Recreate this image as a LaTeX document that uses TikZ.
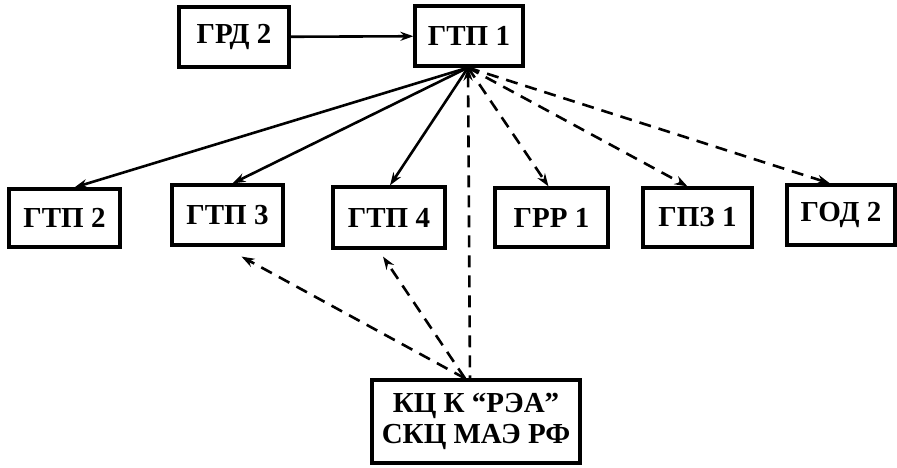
\documentclass[tikz,border=0pt]{standalone}
\usepackage{fontspec}
\setmainfont{Liberation Serif}
\usetikzlibrary{arrows.meta}

\tikzset{
	unit/.style={draw, line width=3.2pt, fill=white, font=\fontsize{29}{31}\selectfont\bfseries, inner sep=0pt, align=center},
	link/.style={line width=2.6pt, -{Stealth[length=13pt, width=9pt]}},
	dlink/.style={link, dash pattern=on 12pt off 8pt}
}

\begin{document}
\begin{tikzpicture}[x=1pt, y=-1pt]
		\useasboundingbox (0, 0) rectangle (897, 468);
		
		% top row
		\node[unit, minimum width=110pt, minimum height=60pt] (grd2) at (234, 37) {ГРД 2};
		\node[unit, minimum width=108pt, minimum height=60pt] (gtp1) at (469, 36) {ГТП 1};
		
		% second row
		\node[unit, minimum width=111pt, minimum height=58pt] (gtp2) at (64.5, 218) {ГТП 2};
		\node[unit, minimum width=111pt, minimum height=60pt] (gtp3) at (227.5, 215) {ГТП 3};
		\node[unit, minimum width=112pt, minimum height=61pt] (gtp4) at (389, 217.5) {ГТП 4};
		\node[unit, minimum width=113pt, minimum height=59pt] (grr1) at (551.5, 217.5) {ГРР 1};
		\node[unit, minimum width=109pt, minimum height=59pt] (gpz1) at (697.5, 217.5) {ГПЗ 1};
		\node[unit, minimum width=108pt, minimum height=60pt] (god2) at (841, 215) {ГОД 2};
		
		% centre
		\node[unit, minimum width=208pt, minimum height=83pt] (kc) at (476, 421.5) {КЦ К “РЭА”\\СКЦ МАЭ РФ};
		
		\coordinate (hub) at ([xshift=-1pt]gtp1.south);
		\coordinate (foot) at ([xshift=-11pt]kc.north);
		
		\draw[link] (grd2) -- (gtp1);
		
		% solid links
		\foreach \to/\dx in {gtp2/10, gtp3/5, gtp4/1}
			\draw[link] (hub) -- ([xshift=\dx pt]\to.north);
		
		% dashed links
		\foreach \to/\dx in {grr1/-3, gpz1/-10, god2/-11}
			\draw[dlink] (hub) -- ([xshift=\dx pt]\to.north);
		
		\draw[dlink, {Stealth[length=13pt, width=9pt]}-] (hub) -- ([xshift=-6pt]kc.north);
		\draw[dlink] (foot) -- ([xshift=14pt, yshift=-10pt]gtp3.south);
		\draw[dlink] (foot) -- ([xshift=-6pt, yshift=-7pt]gtp4.south);
		
	\end{tikzpicture}
\end{document}
